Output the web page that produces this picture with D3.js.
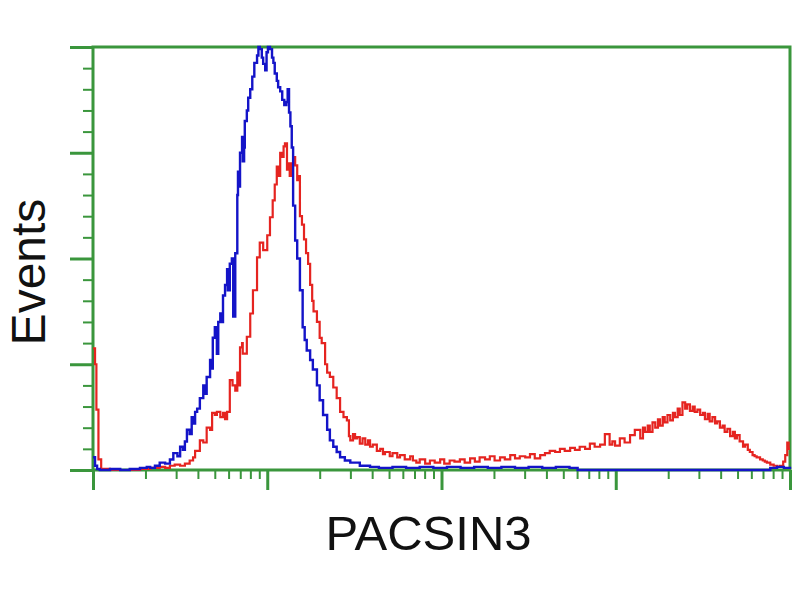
<!DOCTYPE html>
<html><head><meta charset="utf-8">
<script src="https://cdn.jsdelivr.net/npm/d3@7"></script>
<style>html,body{margin:0;padding:0;background:#fff;}svg{display:block;}</style>
</head><body>
<script>
// Channels (0-1024, 256 per decade) and event counts
const blueChannels = [0,3,6,10,25,40,54,69,79,84,91,98,106,113,118,124,128,132,135,138,142,145,147,150,153,157,162,165,167,172,175,176,179,182,184,187,190,191,194,197,198,201,204,206,209,212,213,215,216,219,220,222,223,226,228,231,234,237,241,243,245,248,250,253,255,257,260,263,265,267,270,272,275,278,281,284,286,288,290,292,294,297,300,304,308,311,314,319,323,329,333,338,344,348,353,358,363,370,378,392,407,420,440,460,480,500,520,540,560,580,600,620,640,660,680,700,708,712,990,995,1005,1015,1024];
const blueCounts   = [12,4,1,0,1,0,1,2,3,2,4,7,6,10,16,13,22,19,27,38,34,50,44,55,58,68,80,72,88,104,96,125,135,110,140,148,140,165,175,190,170,195,200,145,205,260,282,268,300,315,292,305,330,340,352,360,372,385,392,400,398,390,384,378,395,400,398,390,385,375,368,362,358,350,345,348,360,338,325,305,250,217,200,170,135,123,113,104,95,80,66,52,38,28,22,17,12,9,7,4,3,2,3,2,3,2,3,2,3,2,3,2,3,2,3,2,2,0,0,2,3,2,3];
const redChannels = [0,3,5,8,12,25,54,69,84,98,106,113,120,128,135,142,147,150,157,162,167,172,175,179,182,187,191,194,197,201,205,209,212,214,216,219,220,226,231,235,241,245,250,256,260,264,267,270,272,275,278,280,282,285,287,289,292,294,297,300,302,304,307,310,313,316,319,322,324,329,333,336,341,344,348,353,358,363,368,373,376,378,382,385,388,392,396,400,404,407,411,417,422,426,429,436,440,447,451,458,466,470,475,480,488,495,502,510,516,524,531,539,546,554,561,568,576,583,590,598,605,613,620,627,635,642,649,657,664,671,679,686,693,701,708,715,723,730,737,745,752,759,763,767,774,781,789,796,804,808,811,815,818,822,826,830,833,837,840,844,848,852,855,859,862,866,870,873,877,881,884,888,892,896,899,903,906,910,914,917,921,925,928,932,936,940,943,946,950,955,958,962,965,969,972,975,980,984,987,990,995,1000,1005,1009,1014,1017,1020,1022,1024];
const redCounts   = [115,100,57,10,1,0,0,1,2,3,2,4,5,4,6,9,12,18,28,26,40,38,54,52,55,50,54,48,55,85,80,75,92,80,116,120,110,126,148,170,201,215,208,222,239,255,270,287,278,300,296,306,309,284,290,278,290,296,288,274,278,240,232,218,205,195,175,160,150,140,125,120,100,92,88,78,68,55,50,47,32,28,34,30,31,25,30,24,28,22,24,18,20,15,17,13,16,12,14,10,13,9,7,10,6,9,7,10,6,9,8,10,7,11,8,12,10,13,9,12,10,14,11,13,12,15,11,14,16,18,17,20,18,21,19,22,20,25,22,24,34,24,27,23,30,26,33,38,30,40,36,42,36,45,40,48,42,50,45,52,47,54,50,58,52,64,58,62,56,60,55,57,52,54,48,53,46,50,44,46,40,42,36,39,32,36,30,33,27,22,24,19,17,14,13,12,10,9,8,7,5,4,3,4,8,14,26,20];
const yMajorTicks = [0,100,200,300,400];
const yMinorTicks = [20,40,60,80,120,140,160,180,220,240,260,280,320,340,360,380];
const xDecades = [1,10,100,1000,10000];
const xLabel = "PACSIN3";
const yLabel = "Events";

const W = 800, H = 600;
const L = 93, R = 790, T = 47, B = 470;
const green = "#3a963c";

const svg = d3.select("body").append("svg").attr("width", W).attr("height", H);

const x = d3.scaleLog().domain([1, 10000]).range([L, R]);
const y = d3.scaleLinear().domain([0, 400]).range([B, T]);
const chToVal = ch => Math.pow(10, ch / 256);

const xMinor = [];
for (let d = 0; d < 4; d++) for (let k = 2; k <= 9; k++) xMinor.push(k * xDecades[d]);

function styleAxis(g, w) {
  g.select(".domain").remove();
  g.selectAll(".tick line").attr("stroke", green).attr("stroke-width", w);
  g.selectAll("text").remove();
}

svg.append("g").attr("transform", `translate(${L},0)`)
  .call(d3.axisLeft(y).tickValues(yMinorTicks).tickSize(10).tickFormat(""))
  .call(g => styleAxis(g, 2));
svg.append("g").attr("transform", `translate(${L},0)`)
  .call(d3.axisLeft(y).tickValues(yMajorTicks).tickSize(23).tickFormat(""))
  .call(g => styleAxis(g, 3));
svg.append("g").attr("transform", `translate(0,${B})`)
  .call(d3.axisBottom(x).tickValues(xMinor).tickSize(9).tickFormat(""))
  .call(g => styleAxis(g, 2));
svg.append("g").attr("transform", `translate(0,${B})`)
  .call(d3.axisBottom(x).tickValues(xDecades).tickSize(20).tickFormat(""))
  .call(g => styleAxis(g, 3));

// frame
svg.append("path")
  .attr("d", `M${L},${B}V${T}H${R}V${B}Z`)
  .attr("fill", "none").attr("stroke", green).attr("stroke-width", 3);

const line = d3.line().x(d => x(chToVal(d[0]))).y(d => y(d[1])).curve(d3.curveStepAfter);

svg.append("path")
  .datum(redChannels.map((c, i) => [c, redCounts[i]]))
  .attr("d", line).attr("fill", "none").attr("stroke", "#e52420").attr("stroke-width", 2.2);
svg.append("path")
  .datum(blueChannels.map((c, i) => [c, blueCounts[i]]))
  .attr("d", line).attr("fill", "none").attr("stroke", "#1414c8").attr("stroke-width", 2.4);

svg.append("text").attr("x", (L + R) / 2 - 13).attr("y", 550)
  .attr("text-anchor", "middle").attr("font-family", "Liberation Sans, Arial, sans-serif")
  .attr("font-size", 49).attr("fill", "#111").text(xLabel);
svg.append("text").attr("transform", `translate(45,272) rotate(-90)`)
  .attr("text-anchor", "middle").attr("font-family", "Liberation Sans, Arial, sans-serif")
  .attr("font-size", 48).attr("fill", "#111").text(yLabel);
</script>
</body></html>
